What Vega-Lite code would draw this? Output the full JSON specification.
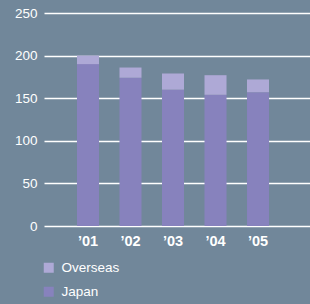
{
  "$schema": "https://vega.github.io/schema/vega-lite/v6.json",
  "width": 266,
  "height": 213,
  "autosize": {"type": "none"},
  "padding": {"left": 44, "top": 13, "right": 0, "bottom": 78},
  "background": "#71879a",
  "config": {
    "view": {"stroke": null},
    "font": "Liberation Sans"
  },
  "data": {
    "values": [
      {"year": "’01", "segment": "Japan", "value": 190},
      {"year": "’01", "segment": "Overseas", "value": 10},
      {"year": "’02", "segment": "Japan", "value": 174},
      {"year": "’02", "segment": "Overseas", "value": 12},
      {"year": "’03", "segment": "Japan", "value": 160},
      {"year": "’03", "segment": "Overseas", "value": 19},
      {"year": "’04", "segment": "Japan", "value": 154},
      {"year": "’04", "segment": "Overseas", "value": 23},
      {"year": "’05", "segment": "Japan", "value": 157},
      {"year": "’05", "segment": "Overseas", "value": 15}
    ]
  },
  "mark": {"type": "bar"},
  "encoding": {
    "x": {
      "field": "year",
      "type": "nominal",
      "sort": null,
      "scale": {"paddingInner": 0.482, "paddingOuter": 0.87, "align": 0.446},
      "axis": {
        "title": null,
        "labelAngle": 0,
        "domain": false,
        "ticks": false,
        "labelPadding": 8,
        "labelColor": "white",
        "labelFont": "Liberation Sans",
        "labelFontSize": 14.5,
        "labelFontWeight": "bold"
      }
    },
    "y": {
      "field": "value",
      "type": "quantitative",
      "stack": "zero",
      "scale": {"domain": [0, 250], "nice": false},
      "axis": {
        "title": null,
        "values": [0, 50, 100, 150, 200, 250],
        "domain": false,
        "ticks": false,
        "labelPadding": 7,
        "labelColor": "white",
        "labelFont": "Liberation Sans",
        "labelFontSize": 13.5,
        "gridColor": "white",
        "gridOpacity": 1,
        "gridWidth": 1.5
      }
    },
    "color": {
      "field": "segment",
      "type": "nominal",
      "scale": {"domain": ["Overseas", "Japan"], "range": ["#aea9d6", "#8782bd"]},
      "legend": {
        "title": null,
        "orient": "none",
        "legendX": -2,
        "legendY": 248,
        "padding": 0,
        "symbolType": "square",
        "symbolSize": 100,
        "symbolStrokeWidth": 0,
        "symbolOpacity": 1,
        "rowPadding": 9,
        "labelColor": "white",
        "labelFont": "Liberation Sans",
        "labelFontSize": 13.5,
        "labelOffset": 6
      }
    },
    "order": {"field": "segment", "sort": "ascending"}
  }
}
